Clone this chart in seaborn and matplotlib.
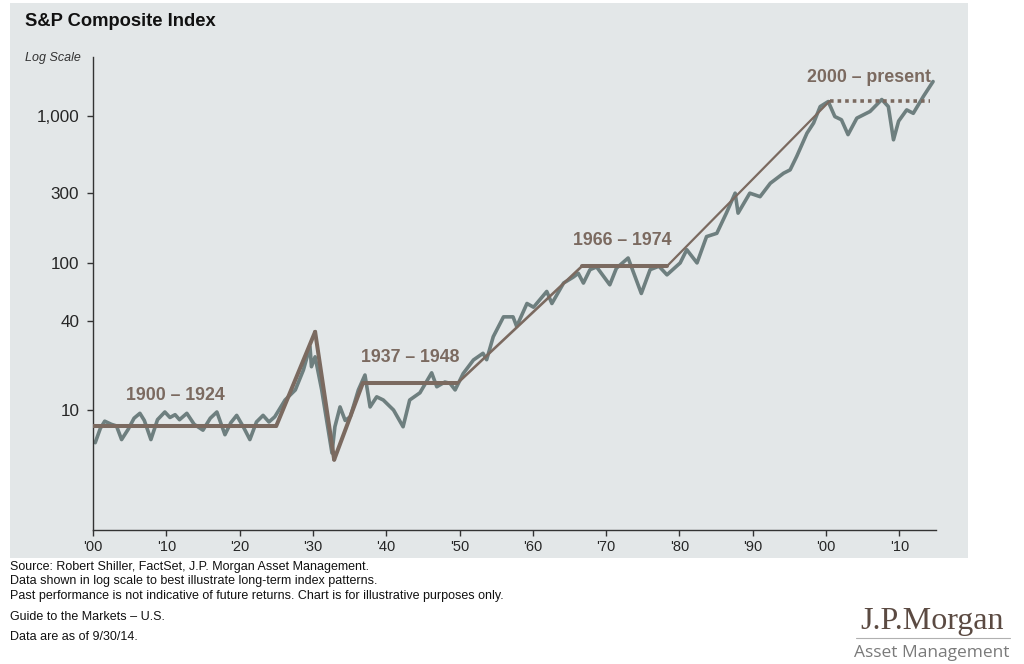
import numpy as np
import pandas as pd
import seaborn as sns
import matplotlib.pyplot as plt
from matplotlib.patches import Rectangle
from matplotlib.ticker import FixedLocator, FixedFormatter, NullLocator

# S&P composite (year, index level)
years = [1900.3, 1901.0, 1901.6, 1902.5, 1903.2, 1903.9, 1904.8, 1905.6, 1906.4, 1907.0,
         1907.9, 1908.8, 1909.8, 1910.5, 1911.2, 1911.8, 1912.8, 1913.8, 1915.0, 1916.0,
         1916.9, 1918.0, 1918.8, 1919.6, 1920.5, 1921.4, 1922.3, 1923.2, 1924.0, 1924.8,
         1926.2, 1927.6, 1928.7, 1929.6, 1929.8, 1930.3, 1931.2, 1932.6, 1933.0, 1933.7,
         1934.4, 1935.1, 1936.2, 1937.1, 1937.8, 1938.7, 1939.6, 1941.0, 1942.3, 1943.2,
         1944.6, 1946.2, 1946.9, 1948.0, 1948.7, 1949.4, 1950.5, 1951.9, 1953.2, 1953.7,
         1954.6, 1956.0, 1957.3, 1957.8, 1959.2, 1960.1, 1961.9, 1962.6, 1964.2, 1965.5,
         1966.2, 1966.9, 1967.8, 1968.7, 1970.5, 1971.4, 1973.0, 1974.8, 1976.0, 1977.2,
         1978.3, 1980.1, 1981.0, 1982.4, 1983.7, 1985.1, 1986.4, 1987.6, 1988.0, 1989.6,
         1991.0, 1992.4, 1994.2, 1995.1, 1996.0, 1997.4, 1998.3, 1999.2, 2000.3, 2001.2,
         2002.1, 2003.0, 2004.2, 2006.0, 2007.6, 2008.5, 2009.2, 2009.9, 2011.0, 2011.9,
         2013.3, 2014.6]
index = [6.0, 7.5, 8.4, 8.0, 7.8, 6.3, 7.4, 8.8, 9.5, 8.5,
         6.3, 8.6, 9.7, 8.9, 9.3, 8.6, 9.5, 8.0, 7.3, 8.8,
         9.7, 6.8, 8.2, 9.2, 7.7, 6.3, 8.3, 9.2, 8.3, 9.0,
         11.7, 13.7, 18.7, 27.0, 19.7, 23.0, 13.7, 5.1, 7.7, 10.5,
         8.5, 9.0, 13.7, 17.3, 10.5, 12.3, 11.7, 10.0, 7.7, 11.7,
         13.1, 17.9, 14.4, 15.5, 15.2, 13.7, 17.7, 21.9, 24.3, 22.0,
         31.5, 43.0, 43.0, 37.0, 53.0, 50.0, 64.0, 53.0, 73.0, 80.0,
         85.0, 73.0, 90.0, 94.0, 71.0, 92.0, 108.0, 62.0, 90.0, 95.0,
         83.0, 100.0, 123.0, 100.0, 151.0, 159.0, 218.0, 298.0, 218.0, 298.0,
         282.0, 348.0, 407.0, 429.0, 530.0, 762.0, 893.0, 1155.0, 1250.0, 988.0,
         940.0, 745.0, 964.0, 1070.0, 1290.0, 1155.0, 687.0, 920.0, 1097.0, 1040.0,
         1360.0, 1710.0]

# trend segments (knots)
trend_years = [1900, 1925, 1930.3, 1932.9, 1936.8, 1949.7, 1966.7, 1978.3, 2000.5]
trend_vals = [7.8, 7.8, 34, 4.6, 15.2, 15.2, 95, 95, 1260]
flat_years = [2000.5, 2014.2]
flat_vals = [1260, 1260]

period_labels = ['1900 – 1924', '1937 – 1948', '1966 – 1974', '2000 – present']
label_x = [1911.2, 1943.3, 1972.2, 2005.8]
label_y = [12.6, 22.9, 141, 1810]

ytick_vals = [10, 40, 100, 300, 1000]
ytick_text = ['10', '40', '100', '300', '1,000']
xtick_vals = list(range(1900, 2011, 10))
xtick_text = ["'00", "'10", "'20", "'30", "'40", "'50", "'60", "'70", "'80", "'90", "'00", "'10"]

sns.set_style("white")
plt.rcParams['font.family'] = ['Liberation Sans', 'DejaVu Sans']

bg = '#e3e7e8'
gray = '#6e7f7f'
brown = '#7b6a60'

fig = plt.figure(figsize=(10.24, 6.64), dpi=100)
fig.patches.append(Rectangle((10 / 1024, 1 - 558 / 664), 958 / 1024, 555 / 664,
                             transform=fig.transFigure, facecolor=bg, edgecolor='none', zorder=-5))
ax = fig.add_axes([93 / 1024, 1 - 530 / 664, 843 / 1024, 473 / 664])
ax.set_facecolor(bg)

df = pd.DataFrame({'year': years, 'index': index})
sns.lineplot(data=df, x='year', y='index', ax=ax, color=gray, linewidth=2.6, zorder=2)

tr = pd.DataFrame({'year': trend_years, 'val': trend_vals})
widths = [2.9, 2.9, 2.9, 2.9, 2.9, 1.9, 2.9, 1.6]
for i, w in enumerate(widths):
    seg = tr.iloc[i:i + 2]
    sns.lineplot(data=seg, x='year', y='val', ax=ax, color=brown, linewidth=w,
                 zorder=3, solid_capstyle='round')
fl = pd.DataFrame({'year': flat_years, 'val': flat_vals})
sns.lineplot(data=fl, x='year', y='val', ax=ax, color=brown, linewidth=2.6,
             linestyle=(0, (1, 1.1)), zorder=3)

for t, x, y in zip(period_labels, label_x, label_y):
    ax.text(x, y, t, color=brown, fontsize=12.8, fontweight='bold', ha='center', va='center')

ax.set_yscale('log')
ax.set_xlim(1900, 2015)
ax.set_ylim(1.53, 2510)
ax.yaxis.set_major_locator(FixedLocator(ytick_vals))
ax.yaxis.set_major_formatter(FixedFormatter(ytick_text))
ax.yaxis.set_minor_locator(NullLocator())
ax.set_xticks(xtick_vals)
ax.set_xticklabels(xtick_text)
ax.set_xlabel('')
ax.set_ylabel('')
for s in ['top', 'right']:
    ax.spines[s].set_visible(False)
for s in ['left', 'bottom']:
    ax.spines[s].set_color('#333333')
    ax.spines[s].set_linewidth(1.0)
ax.tick_params(axis='y', which='major', length=4.3, width=1, color='#333333',
               labelsize=12.3, pad=5.5, left=True)
ax.tick_params(axis='x', which='major', length=4, width=1, color='#333333',
               labelsize=10.5, pad=3, bottom=True)

fig.text(25 / 1024, 1 - 22 / 664, 'S&P Composite Index', fontsize=13.2, fontweight='bold',
         va='center', ha='left', color='#111111')
fig.text(25 / 1024, 1 - 58 / 664, 'Log Scale', fontsize=9, style='italic',
         va='center', ha='left', color='#333333')

notes = [
    (567, 'Source: Robert Shiller, FactSet, J.P. Morgan Asset Management.'),
    (581, 'Data shown in log scale to best illustrate long-term index patterns.'),
    (596, 'Past performance is not indicative of future returns. Chart is for illustrative purposes only.'),
    (617, 'Guide to the Markets – U.S.'),
    (637, 'Data are as of 9/30/14.'),
]
for y, t in notes:
    fig.text(10 / 1024, 1 - y / 664, t, fontsize=9, va='center', ha='left', color='#111111')

fig.text(932 / 1024, 1 - 622 / 664, 'J.P.Morgan', family=['Liberation Serif', 'DejaVu Serif'],
         fontsize=23, color='#5b4a42', ha='center', va='center')
fig.add_artist(plt.Line2D([856 / 1024, 1010 / 1024], [1 - 638 / 664, 1 - 638 / 664],
                          color='#b0b0b0', linewidth=0.8))
fig.text(932 / 1024, 1 - 653 / 664, 'Asset Management', fontsize=12.5, color='#7a7a7a',
         ha='center', va='center', family=['Open Sans', 'DejaVu Sans'])

fig.savefig('out.png', dpi=100)
